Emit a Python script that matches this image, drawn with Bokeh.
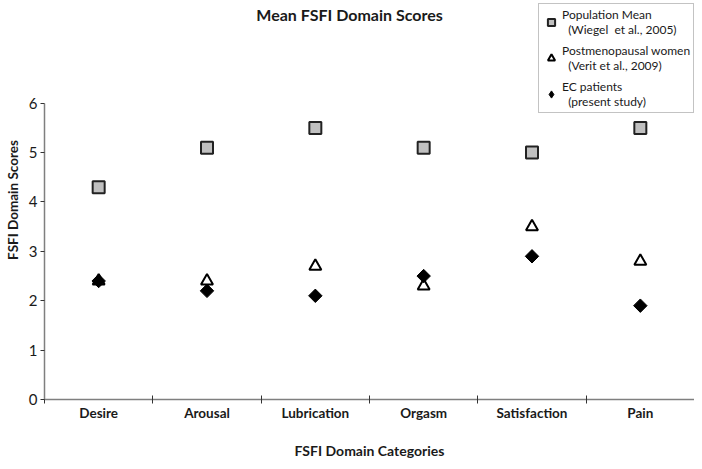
import math
from bokeh.plotting import figure
from bokeh.models import Range1d, FixedTicker, Label, Legend, LegendItem
from bokeh.embed import file_html
from bokeh.resources import INLINE

categories = ["Desire", "Arousal", "Lubrication", "Orgasm", "Satisfaction", "Pain"]
population_mean = [4.3, 5.1, 5.5, 5.1, 5.0, 5.5]
postmenopausal = [2.4, 2.4, 2.7, 2.3, 3.5, 2.8]
ec_patients = [2.4, 2.2, 2.1, 2.5, 2.9, 1.9]
y_ticks = [0, 1, 2, 3, 4, 5, 6]
y_max = 6

FONT = "Lato"
xs = [i + 0.5 for i in range(len(categories))]

# frame spans the whole upper canvas so that title and legend (drawn inside it) are not clipped;
# the axes themselves are bounded to 0..6
H, W = 461, 694
BOTTOM, LEFT = 61, 44
frame_h = H - BOTTOM
y_top_px = 103  # pixel row where the value 6 sits
y_end = y_max * frame_h / (frame_h - y_top_px)

p = figure(width=W, height=H, output_backend="svg", toolbar_location=None,
           x_range=Range1d(0, len(categories)), y_range=Range1d(0, y_end),
           min_border_left=LEFT, min_border_right=0, min_border_top=0, min_border_bottom=BOTTOM)
p.outline_line_color = None
p.xgrid.grid_line_color = None
p.ygrid.grid_line_color = None
p.background_fill_color = "white"
p.border_fill_color = "white"

axis_col = "#7f7f7f"
text_col = "#1a1a1a"
# x axis
p.xaxis.ticker = FixedTicker(ticks=xs, minor_ticks=list(range(len(categories) + 1)))
p.xaxis.major_label_overrides = {x: c for x, c in zip(xs, categories)}
p.xaxis.major_tick_line_color = None
p.xaxis.major_tick_in = 0
p.xaxis.major_tick_out = 0
p.xaxis.minor_tick_in = 4
p.xaxis.minor_tick_out = 4
p.xaxis.minor_tick_line_color = "#333333"
p.xaxis.axis_line_color = axis_col
p.xaxis.axis_line_width = 1.5
p.xaxis.major_label_text_font = FONT
p.xaxis.major_label_text_font_style = "bold"
p.xaxis.major_label_text_font_size = "13.5px"
p.xaxis.major_label_text_color = text_col
p.xaxis.major_label_standoff = 1
p.xaxis.axis_label = "FSFI Domain Categories"
p.xaxis.axis_label_text_font = FONT
p.xaxis.axis_label_text_font_style = "bold"
p.xaxis.axis_label_text_font_size = "14px"
p.xaxis.axis_label_text_color = text_col
p.xaxis.axis_label_standoff = 18

# y axis
p.yaxis.ticker = FixedTicker(ticks=y_ticks, minor_ticks=[])
p.yaxis.bounds = (0, y_max)
p.yaxis.major_tick_in = 0
p.yaxis.major_tick_out = 4
p.yaxis.major_tick_line_color = "#333333"
p.yaxis.axis_line_color = axis_col
p.yaxis.axis_line_width = 1.5
p.yaxis.major_label_text_font = FONT
p.yaxis.major_label_text_font_size = "15px"
p.yaxis.major_label_text_color = text_col
p.yaxis.major_label_standoff = 3
p.yaxis.axis_label = "FSFI Domain Scores"
p.yaxis.axis_label_text_font = FONT
p.yaxis.axis_label_text_font_style = "bold"
p.yaxis.axis_label_text_font_size = "13.5px"
p.yaxis.axis_label_text_color = text_col
p.yaxis.axis_label_standoff = 5

r_sq = p.scatter(xs, population_mean, marker="square", size=12,
                 fill_color="#c0c0c0", line_color="#222222", line_width=2)
r_tri = p.scatter(xs, postmenopausal, marker="triangle", size=12,
                  fill_color="white", line_color="black", line_width=2)
r_dia = p.scatter(xs, ec_patients, marker="square", size=9.5, angle=math.pi / 4,
                  fill_color="black", line_color="black", line_width=1)
# hidden proxy (same data) so the legend key shows a diamond shape
r_dia_key = p.scatter(xs, ec_patients, marker="diamond", size=12,
                      fill_color="black", line_color="black", line_width=1, visible=False)

title = Label(x=305, y=frame_h - 15, x_units="screen", y_units="screen",
              text="Mean FSFI Domain Scores", text_font=FONT, text_font_style="bold",
              text_font_size="16px", text_align="center", text_baseline="middle",
              text_color=text_col)
p.add_layout(title)

legend = Legend(items=[
    LegendItem(label="Population Mean\n  (Wiegel  et al., 2005)", renderers=[r_sq]),
    LegendItem(label="Postmenopausal women\n  (Verit et al., 2009)", renderers=[r_tri]),
    LegendItem(label="EC patients\n  (present study)", renderers=[r_dia_key]),
], location=(494, frame_h - 114), label_text_font=FONT, label_text_font_size="12px",
    label_text_color=text_col, glyph_width=18, glyph_height=18,
    label_standoff=2, spacing=6, padding=3, margin=0,
    border_line_color="#888888", border_line_width=1.5,
    inactive_fill_alpha=0.0,
    label_text_line_height=1.25)
p.add_layout(legend, "center")

open("out.html", "w").write(file_html(p, INLINE))
